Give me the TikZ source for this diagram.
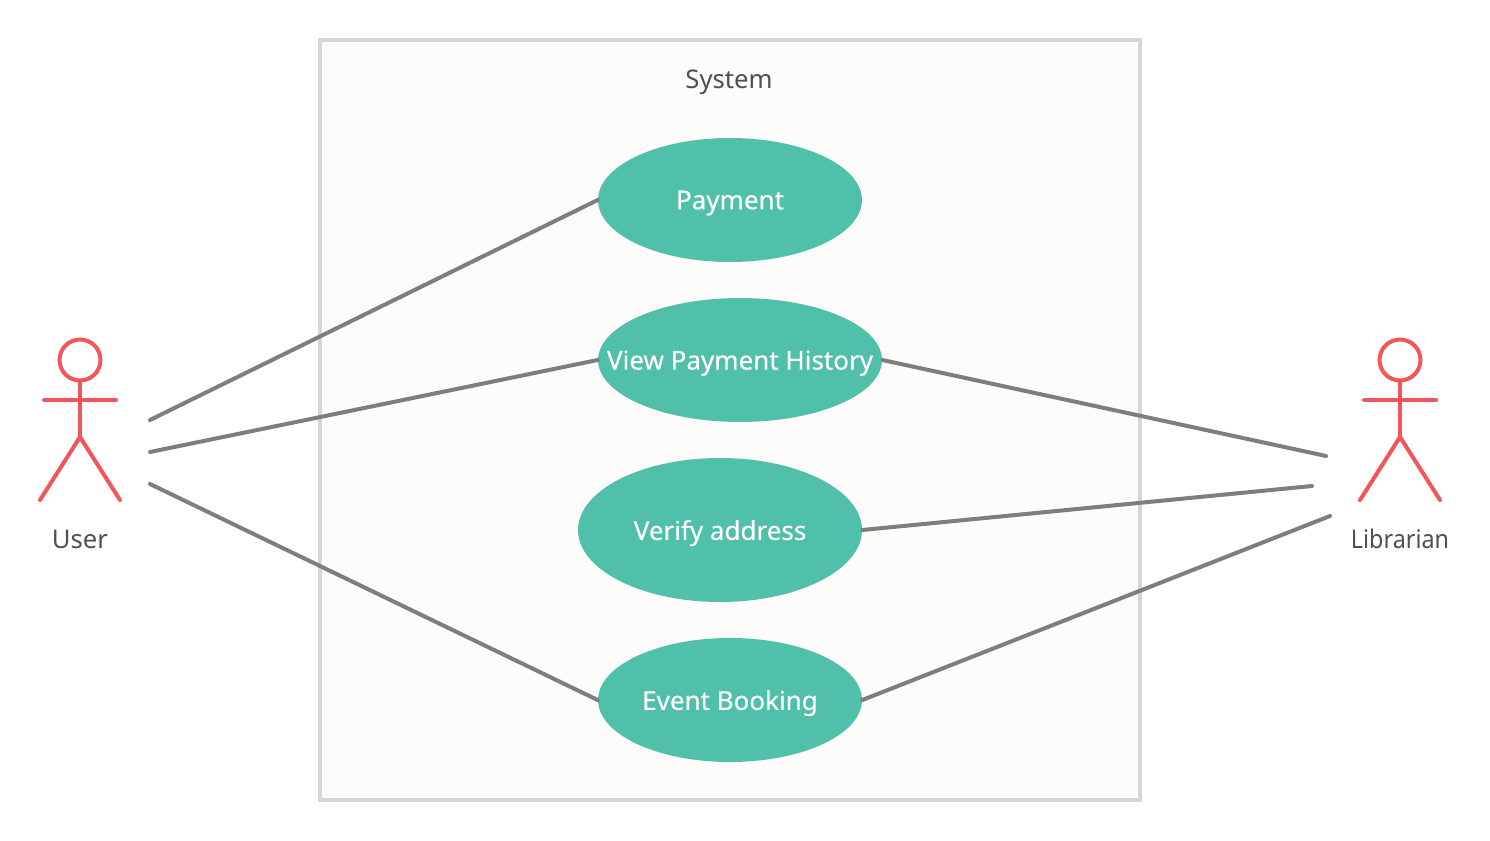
\documentclass[tikz,border=0pt]{standalone}
\usepackage{fontspec}
\setmainfont{Noto Sans}
\usepackage{xcolor}
\usetikzlibrary{shapes.geometric,calc}
\definecolor{usecasefill}{HTML}{50C0AA}
\definecolor{actorred}{HTML}{F2555A}
\definecolor{linkgray}{HTML}{807E7B}
\definecolor{sysedge}{HTML}{D6D6D6}
\definecolor{sysfill}{HTML}{FDFCFB}
\definecolor{labelgray}{HTML}{505050}
\newcommand{\ucname}[1]{\makebox[0pt]{\addfontfeature{FakeBold=0.25}#1}}

\begin{document}
\begin{tikzpicture}[
  x=0.02cm, y=-0.02cm,
  system/.style={draw=sysedge, fill=sysfill, line width=0.08cm},
  usecase/.style={draw=none, fill=usecasefill, ellipse, inner sep=0pt, text depth=0pt,
                  text=white, font=\fontsize{14.8}{17}\selectfont},
  actor/.style={draw=actorred, line width=0.08cm, line cap=round, line join=round},
  head/.style={actor, circle, inner sep=0pt, minimum size=0.82cm},
  caption/.style={text=labelgray, text depth=0pt, font=\fontsize{14.6}{17}\selectfont},
  link/.style={draw=linkgray, line width=0.08cm, line cap=round},
]
\useasboundingbox (0,0) rectangle (1490,841);
\fill[white] (0,0) rectangle (1490,841);

\draw[system] (320,40) rectangle (1140,800);
\node[caption] (systitle) at (729,79) {System};

\node[usecase, minimum width=5.28cm, minimum height=2.48cm] (payment) at (730,200) {\ucname{Payment}};
\node[usecase, minimum width=5.68cm, minimum height=2.48cm] (history) at (740,360) {\ucname{View Payment History}};
\node[usecase, minimum width=5.68cm, minimum height=2.88cm] (verify) at (720,530) {\ucname{Verify address}};
\node[usecase, minimum width=5.28cm, minimum height=2.48cm] (booking) at (730,700) {\ucname{Event Booking}};

% actors
\foreach \name/\cx/\txt in {user/80/User, librarian/1400/{\scalebox{.91}[1]{Librarian}}} {
  \node[head] (\name head) at (\cx,360) {};
  \coordinate (\name hip) at (\cx,437);
  \draw[actor] (\name head.south) -- (\name hip);
  \draw[actor] ($(\name hip)+(-36,-37)$) -- ($(\name hip)+(36,-37)$);
  \draw[actor] ($(\name hip)+(-40,63)$) -- (\name hip) -- ($(\name hip)+(40,63)$);
  \node[caption] (\name label) at (\cx,539) {\txt};
}

% free ends of the links
\coordinate (u1) at (150,420);
\coordinate (u2) at (150,452);
\coordinate (u3) at (150,484);
\coordinate (l1) at (1326,456);
\coordinate (l2) at (1312,486);
\coordinate (l3) at (1330,516);

\draw[link] (u1) -- (payment.west);
\draw[link] (u2) -- (history.west);
\draw[link] (u3) -- (booking.west);
\draw[link] (history.east) -- (l1);
\draw[link] (verify.east) -- (l2);
\draw[link] (booking.east) -- (l3);
\end{tikzpicture}
\end{document}
